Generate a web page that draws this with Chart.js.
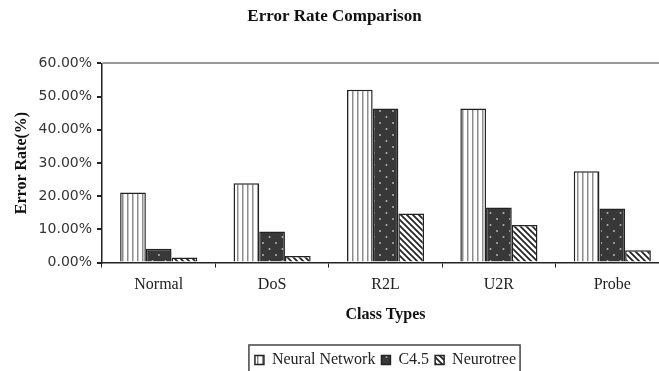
<!DOCTYPE html>
<html>
<head>
<meta charset="utf-8">
<script src="https://cdn.jsdelivr.net/npm/chart.js@4"></script>
<style>
  body { margin: 0; background: #fff; }
  #wrap { width: 659px; height: 371px; overflow: hidden; position: relative; }
</style>
</head>
<body>
<div id="wrap"><canvas id="errchart" width="674" height="378"></canvas></div>
<script>
const classTypes = ['Normal', 'DoS', 'R2L', 'U2R', 'Probe'];
const neuralNetwork = [21.1, 23.9, 52.1, 46.4, 27.5];
const c45 = [4.2, 9.4, 46.4, 16.6, 16.3];
const neurotree = [1.5, 2.0, 14.8, 11.3, 3.7];

function makePattern(kind) {
  const c = document.createElement('canvas');
  const ctx = c.getContext('2d');
  if (kind === 'vert') {
    c.width = 5; c.height = 5;
    ctx.fillStyle = '#fff'; ctx.fillRect(0, 0, 5, 5);
    ctx.fillStyle = '#8c8c8c'; ctx.fillRect(2, 0, 1.5, 5);
  } else if (kind === 'dots') {
    c.width = 13; c.height = 12;
    ctx.fillStyle = '#383838'; ctx.fillRect(0, 0, 13, 12);
    ctx.fillStyle = '#b5b5b5';
    ctx.beginPath(); ctx.arc(3, 3, 1, 0, Math.PI * 2); ctx.fill();
    ctx.beginPath(); ctx.arc(9.5, 9, 1, 0, Math.PI * 2); ctx.fill();
  } else {
    c.width = 6; c.height = 6;
    ctx.fillStyle = '#fff'; ctx.fillRect(0, 0, 6, 6);
    ctx.strokeStyle = '#222'; ctx.lineWidth = 1.7;
    ctx.beginPath();
    ctx.moveTo(-1, -1); ctx.lineTo(7, 7);
    ctx.moveTo(5, -1); ctx.lineTo(7, 1);
    ctx.moveTo(-1, 5); ctx.lineTo(1, 7);
    ctx.stroke();
  }
  return ctx.createPattern(c, 'repeat');
}

// box round the legend, like the original
const legendFrame = {
  id: 'legendFrame',
  afterDraw(chart) {
    const boxes = chart.legend.legendHitBoxes;
    if (!boxes || !boxes.length) return;
    const ctx = chart.ctx;
    const left = Math.min(...boxes.map(b => b.left)) - 6;
    const right = Math.max(...boxes.map(b => b.left + b.width)) + 4;
    const top = boxes[0].top - 7;
    ctx.save();
    ctx.strokeStyle = '#444';
    ctx.lineWidth = 1.5;
    ctx.strokeRect(left, top, right - left, 40);
    ctx.restore();
  }
};

const serif = "'Liberation Serif', 'DejaVu Serif', serif";

new Chart(document.getElementById('errchart'), {
  type: 'bar',
  plugins: [legendFrame],
  data: {
    labels: classTypes,
    datasets: [
      { label: 'Neural Network', data: neuralNetwork, backgroundColor: makePattern('vert') },
      { label: 'C4.5', data: c45, backgroundColor: makePattern('dots') },
      { label: 'Neurotree', data: neurotree, backgroundColor: makePattern('diag') }
    ]
  },
  options: {
    responsive: false,
    animation: false,
    layout: { padding: { left: 0, right: 5, top: 0, bottom: 0 } },
    datasets: {
      bar: {
        borderColor: '#222',
        borderWidth: 1.5,
        barPercentage: 1,
        categoryPercentage: 0.68
      }
    },
    plugins: {
      title: {
        display: true,
        text: 'Error Rate Comparison',
        color: '#111',
        font: { family: serif, size: 17, weight: 'bold' },
        padding: { top: 6, bottom: 37 }
      },
      legend: {
        position: 'bottom',
        fullSize: false,
        labels: {
          boxWidth: 9,
          boxHeight: 9,
          padding: 6,
          color: '#222',
          font: { family: serif, size: 16 }
        }
      },
      tooltip: { enabled: false }
    },
    scales: {
      x: {
        border: { display: true, color: '#222', width: 1.5 },
        grid: { display: true, color: 'transparent', tickColor: '#222', tickLength: 5 },
        ticks: { color: '#222', padding: 8, font: { family: serif, size: 16 } },
        title: {
          display: true,
          text: 'Class Types',
          color: '#111',
          font: { family: serif, size: 16, weight: 'bold' },
          padding: { top: 2, bottom: 22 }
        }
      },
      y: {
        min: 0,
        max: 60,
        afterFit(scale) { scale.width = 102; },
        border: { display: true, color: '#222', width: 1.5 },
        grid: {
          color: ctx => ctx.tick && ctx.tick.value === 60 ? '#999' : 'transparent',
          lineWidth: 2,
          tickColor: '#222',
          tickLength: 5
        },
        ticks: {
          stepSize: 10,
          color: '#333',
          padding: 5,
          font: { family: "'DejaVu Sans', sans-serif", size: 14 },
          callback: v => v.toFixed(2) + '%'
        },
        title: {
          display: true,
          text: 'Error Rate(%)',
          color: '#111',
          font: { family: serif, size: 16, weight: 'bold' },
          padding: { top: 12, bottom: 4 }
        }
      }
    }
  }
});
</script>
</body>
</html>
